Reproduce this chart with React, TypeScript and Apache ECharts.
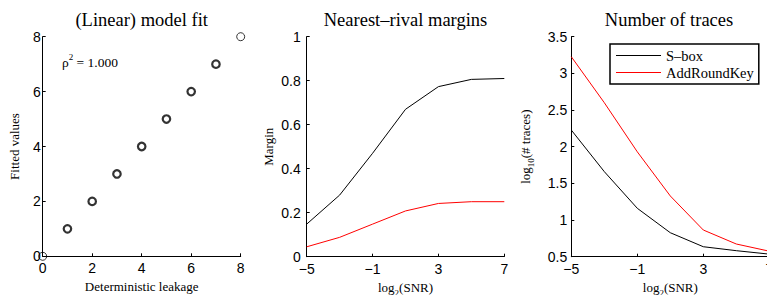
import React, { useEffect, useRef } from "react";
import * as echarts from "echarts";

const leakage = [0, 1, 2, 3, 4, 5, 6, 7, 8];
const fitted = [0, 1, 2, 3, 4, 5, 6, 7, 8];
const rho2 = "1.000";

const snr = [-5, -3, -1, 1, 3, 5, 7];
const marginSbox = [0.148, 0.28, 0.47, 0.67, 0.773, 0.806, 0.81];
const marginARK = [0.045, 0.088, 0.148, 0.208, 0.242, 0.25, 0.25];
const tracesSbox = [2.227, 1.66, 1.16, 0.827, 0.636, 0.582, 0.535];
const tracesARK = [3.227, 2.6, 1.93, 1.328, 0.864, 0.673, 0.575];
const snrTicks = [-5, -1, 3, 7];

const titles = ["(Linear) model fit", "Nearest\u2013rival margins", "Number of traces"];
const legendNames = ["S\u2013box", "AddRoundKey"];

const SERIF = "Liberation Serif";
const SANS = "Liberation Sans";

const fmt = (v: number) => String(v).replace("-", "\u2212");

function baseAxis(gridIndex: number, labelMargin: number) {
  return {
    gridIndex,
    type: "value" as const,
    axisLine: { show: true, onZero: false, lineStyle: { color: "#000", width: 1 } },
    axisTick: { show: true, inside: true, length: 3, lineStyle: { color: "#000", width: 1 } },
    splitLine: { show: false },
    axisLabel: { color: "#000", fontFamily: SANS, fontSize: 14, margin: labelMargin, formatter: fmt },
    nameTextStyle: {
      color: "#000",
      fontFamily: SERIF,
      fontSize: 13,
      rich: {
        s: { fontFamily: SERIF, fontSize: 9, verticalAlign: "bottom", lineHeight: 20, color: "#000" },
      },
    },
  };
}

export default function App() {
  const ref = useRef<HTMLDivElement>(null);
  useEffect(() => {
    if (!ref.current) return;
    const chart = echarts.init(ref.current, undefined, { renderer: "svg" });
    const last = leakage.length - 1;
    const scatterData = leakage.map((x, i) => ({
      value: [x, fitted[i]],
      symbolSize: i === 0 || i === last ? 8 : 7.5,
      itemStyle: { borderWidth: i === 0 || i === last ? 1 : 2.2 },
    }));
    const gridTop = 36.7;
    const grids = [
      { left: 42.7, top: gridTop, width: 198, height: 219.6 },
      { left: 306.7, top: gridTop, width: 197.6, height: 220 },
      { left: 571.3, top: gridTop, width: 198, height: 220 },
    ];
    const titleX = [141.7, 405.5, 669];
    const option: any = {
      animation: false,
      backgroundColor: "#fff",
      grid: grids.map((g) => ({ ...g, containLabel: false, outerBoundsMode: "none" })),
      xAxis: [
        {
          ...baseAxis(0, 5),
          min: 0,
          max: 8,
          interval: 2,
          name: "Deterministic leakage",
          nameLocation: "middle",
          nameGap: 19,
        },
        {
          ...baseAxis(1, 5),
          min: -5,
          max: 7,
          axisLabel: { ...baseAxis(1, 5).axisLabel, customValues: snrTicks },
          axisTick: { ...baseAxis(1, 5).axisTick, customValues: snrTicks },
          name: "log{s|2}(SNR)",
          nameLocation: "middle",
          nameGap: 14,
        },
        {
          ...baseAxis(2, 5),
          min: -5,
          max: 7,
          axisLabel: { ...baseAxis(2, 5).axisLabel, customValues: snrTicks },
          axisTick: { ...baseAxis(2, 5).axisTick, customValues: snrTicks },
          name: "log{s|2}(SNR)",
          nameLocation: "middle",
          nameGap: 14,
        },
      ],
      yAxis: [
        {
          ...baseAxis(0, 2),
          min: 0,
          max: 8,
          interval: 2,
          name: "Fitted values",
          nameLocation: "middle",
          nameGap: 22,
        },
        {
          ...baseAxis(1, 6),
          min: 0,
          max: 1,
          interval: 0.2,
          name: "Margin",
          nameLocation: "middle",
          nameGap: 32,
        },
        {
          ...baseAxis(2, 4),
          min: 0.5,
          max: 3.5,
          interval: 0.5,
          name: "log{s|10}(# traces)",
          nameLocation: "middle",
          nameGap: 36,
        },
      ],
      legend: {
        data: legendNames,
        orient: "vertical",
        left: 610,
        top: 44,
        padding: [3, 5, 3, 6],
        itemGap: 0,
        itemWidth: 45,
        itemHeight: 1,
        icon: "rect",
        borderColor: "#000",
        borderWidth: 1.5,
        backgroundColor: "#fff",
        textStyle: { fontFamily: SERIF, fontSize: 14.5, color: "#000", lineHeight: 17 },
      },
      series: [
        {
          type: "scatter",
          xAxisIndex: 0,
          yAxisIndex: 0,
          symbol: "circle",
          clip: false,
          itemStyle: { color: "rgba(0,0,0,0)", borderColor: "#000" },
          data: scatterData,
          z: 5,
        },
        {
          type: "line",
          name: legendNames[0],
          xAxisIndex: 1,
          yAxisIndex: 1,
          symbol: "none",
          lineStyle: { color: "#000", width: 1 },
          itemStyle: { color: "#000" },
          data: snr.map((x, i) => [x, marginSbox[i]]),
        },
        {
          type: "line",
          name: legendNames[1],
          xAxisIndex: 1,
          yAxisIndex: 1,
          symbol: "none",
          lineStyle: { color: "#ff0000", width: 1 },
          itemStyle: { color: "#ff0000" },
          data: snr.map((x, i) => [x, marginARK[i]]),
        },
        {
          type: "line",
          name: legendNames[0],
          xAxisIndex: 2,
          yAxisIndex: 2,
          symbol: "none",
          lineStyle: { color: "#000", width: 1 },
          itemStyle: { color: "#000" },
          data: snr.map((x, i) => [x, tracesSbox[i]]),
        },
        {
          type: "line",
          name: legendNames[1],
          xAxisIndex: 2,
          yAxisIndex: 2,
          symbol: "none",
          lineStyle: { color: "#ff0000", width: 1 },
          itemStyle: { color: "#ff0000" },
          data: snr.map((x, i) => [x, tracesARK[i]]),
        },
      ],
      graphic: [
        ...titles.map((t, i) => ({
          type: "text",
          x: titleX[i],
          y: 20,
          style: {
            text: t,
            fontFamily: SERIF,
            fontSize: 18.5,
            fill: "#000",
            align: "center",
            verticalAlign: "middle",
          },
        })),
        {
          type: "text",
          x: 62,
          y: 62,
          style: {
            text: "\u03c1{p|2} = " + rho2,
            fontFamily: SERIF,
            fontSize: 13.5,
            fill: "#000",
            align: "left",
            verticalAlign: "middle",
            rich: {
              p: { fontFamily: SERIF, fontSize: 9, verticalAlign: "top", lineHeight: 20, fill: "#000" },
            },
          },
        },
      ],
    };
    chart.setOption(option);
    return () => chart.dispose();
  }, []);
  return (
    <div
      ref={ref}
      style={{ position: "fixed", left: 0, top: 0, width: 767, height: 295 }}
    />
  );
}
